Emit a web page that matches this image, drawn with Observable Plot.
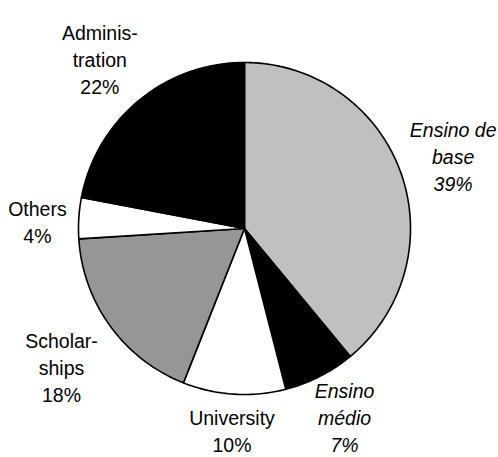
<!DOCTYPE html>
<html><head><meta charset="utf-8">
<script src="https://cdn.jsdelivr.net/npm/d3@7"></script>
<script src="https://cdn.jsdelivr.net/npm/@observablehq/plot@0.6"></script>
<style>body{margin:0;background:#fff} #chart svg{display:block}</style>
</head><body><div id="chart"></div>
<script>
// ---- data ----
const categories = ["Ensino de base", "Ensino médio", "University", "Scholarships", "Others", "Administration"];
const labelNames = ["Ensino de\nbase", "Ensino\nmédio", "University", "Scholar-\nships", "Others", "Adminis-\ntration"];
const shares = [39, 7, 10, 18, 4, 22];
const italicCategories = ["Ensino de base", "Ensino médio"];
const sliceColors = ["#c0c0c0", "#000000", "#ffffff", "#969696", "#ffffff", "#000000"];

// ---- layout ----
const W = 498, H = 457;
const mL = 78, mR = 88, mT = 62, mB = 63;
const R = (W - mL - mR) / 2;         // pie radius in pixels
const CX = mL + R, CY = mT + R;
const FONT = 19.5, LINE = 27, CAP = 14, GAP = 10, DY = 5;
const FAMILY = '"Liberation Sans", Arial, sans-serif';

const rows = categories.map((c, i) => ({category: c, share: shares[i], name: labelNames[i], italic: italicCategories.includes(c)}));
const arcs = d3.pie().sort(null).value(d => d.share)(rows);

const pt = a => [Math.sin(a), -Math.cos(a)];

const slices = arcs.map(a => {
  const ring = [[0, 0]];
  const n = Math.max(2, Math.ceil((a.endAngle - a.startAngle) / (Math.PI / 180)));
  for (let k = 0; k <= n; k++) ring.push(pt(a.startAngle + (a.endAngle - a.startAngle) * k / n));
  ring.push([0, 0]);
  return {type: "Feature", properties: {category: a.data.category}, geometry: {type: "Polygon", coordinates: [ring]}};
});

const ctx = document.createElement("canvas").getContext("2d");
const labels = arcs.map(a => {
  const d = a.data;
  const text = `${d.name}\n${d.share}%`;
  const lines = text.split("\n");
  ctx.font = `${d.italic ? "italic " : ""}${FONT}px ${FAMILY}`;
  const w = d3.max(lines, l => ctx.measureText(l).width) + 2;
  const h = (lines.length - 1) * LINE + CAP;
  const mid = (a.startAngle + a.endAngle) / 2;
  const [dx, dy] = pt(mid);
  const dist = R + GAP + Math.abs(dx) * w / 2 + Math.abs(dy) * h / 2;
  // keep the label block inside the picture
  let px = CX + dx * dist, py = CY + dy * dist + DY;
  px = Math.min(W - w / 2 - 1, Math.max(w / 2 + 1, px));
  const lastBaseline = py + 0.32 * FONT + (lines.length - 1) / 2 * LINE;
  if (lastBaseline > H - 8) py -= lastBaseline - (H - 8);
  return {text, italic: d.italic, x: (px - CX) / R, y: (py - CY) / R};
});

const textOpts = {x: "x", y: "y", text: "text", fontSize: FONT, lineHeight: LINE / FONT,
  textAnchor: "middle", lineAnchor: "middle", fill: "black", fontFamily: FAMILY};

const chart = Plot.plot({
  width: W, height: H,
  marginLeft: mL, marginRight: mR, marginTop: mT, marginBottom: mB,
  projection: {type: "identity", domain: {type: "MultiPoint", coordinates: [[-1, -1], [1, 1]]}, clip: false},
  color: {domain: categories, range: sliceColors},
  style: {fontFamily: FAMILY, background: "white"},
  marks: [
    Plot.geo(slices, {fill: d => d.properties.category, stroke: "black", strokeWidth: 1.6, strokeLinejoin: "round"}),
    Plot.text(labels.filter(d => !d.italic), textOpts),
    Plot.text(labels.filter(d => d.italic), {...textOpts, fontStyle: "italic"})
  ]
});
document.getElementById("chart").appendChild(chart);
</script>
</body></html>
